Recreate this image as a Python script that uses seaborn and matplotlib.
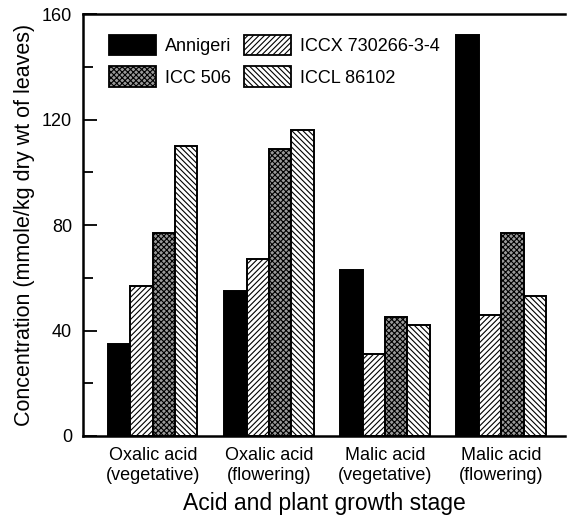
import pandas as pd
import numpy as np
import matplotlib
matplotlib.use("Agg")
import matplotlib.pyplot as plt
import seaborn as sns
from matplotlib.patches import Patch
from matplotlib.ticker import MultipleLocator

# Data
stages = ["Oxalic acid\n(vegetative)", "Oxalic acid\n(flowering)",
          "Malic acid\n(vegetative)", "Malic acid\n(flowering)"]
cultivars = ["Annigeri", "ICCX 730266-3-4", "ICC 506", "ICCL 86102"]
annigeri = [35, 55, 63, 152]
iccx = [57, 67, 31, 46]
icc506 = [77, 109, 45, 77]
iccl = [110, 116, 42, 53]

# Styles
faces = ["black", "white", "#9a9a9a", "white"]
hatches = [None, "//////", "xxxxxx", "\\\\\\\\\\\\"]

df = pd.DataFrame({
    "stage": np.repeat(stages, 4),
    "cultivar": cultivars * 4,
    "value": [v for grp in zip(annigeri, iccx, icc506, iccl) for v in grp],
})

sns.set_style("ticks")
plt.rcParams['font.family'] = ['Liberation Sans', 'DejaVu Sans']
plt.rcParams['hatch.linewidth'] = 0.8
plt.rcParams['text.color'] = 'black'
plt.rcParams['axes.labelcolor'] = 'black'
plt.rcParams['xtick.color'] = 'black'
plt.rcParams['ytick.color'] = 'black'

fig = plt.figure(figsize=(5.69, 5.24), dpi=100)
ax = fig.add_axes([0.146, 0.168, 0.847, 0.805])

sns.barplot(data=df, x="stage", y="value", hue="cultivar", order=stages,
            hue_order=cultivars, width=0.77, ax=ax, legend=False,
            palette=["white"] * 4, saturation=1, edgecolor="black", linewidth=1.4)

for cont, fc, h in zip(ax.containers, faces, hatches):
    for bar in cont:
        bar.set_facecolor(fc)
        bar.set_edgecolor("black")
        if h:
            bar.set_hatch(h)

ax.set_ylim(0, 160)
ax.set_xlim(-0.6, 3.55)
ax.yaxis.set_major_locator(MultipleLocator(40))
ax.yaxis.set_minor_locator(MultipleLocator(20))
ax.tick_params(axis="y", which="major", direction="in", length=10, width=1.3,
               labelsize=13, pad=8)
ax.tick_params(axis="y", which="minor", direction="in", length=7, width=1.3)
ax.tick_params(axis="x", length=0, labelsize=13, pad=8)

for s in ["left", "bottom", "top"]:
    ax.spines[s].set_linewidth(1.8)
    ax.spines[s].set_color("black")
ax.spines["right"].set_visible(False)

ax.set_ylabel("Concentration (mmole/kg dry wt of leaves)", fontsize=15.5, labelpad=5)
ax.set_xlabel("Acid and plant growth stage", fontsize=16.5, labelpad=6)

handles = [Patch(facecolor=fc, edgecolor="black", hatch=h, label=c, linewidth=1.3)
           for fc, h, c in zip(faces, hatches, cultivars)]
ax.legend(handles=[handles[0], handles[2], handles[1], handles[3]],
          labels=[cultivars[0], cultivars[2], cultivars[1], cultivars[3]],
          ncol=2, frameon=False, fontsize=13, loc="upper left",
          bbox_to_anchor=(0.02, 0.99), handlelength=2.6, handleheight=1.4,
          columnspacing=0.7, handletextpad=0.5, labelspacing=0.6)

fig.savefig("out.png", dpi=100)
